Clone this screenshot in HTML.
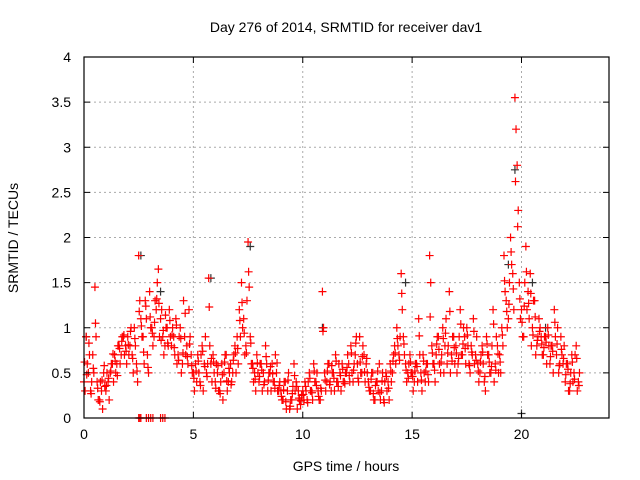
<!DOCTYPE html>
<html><head><meta charset="utf-8"><style>
body{margin:0;background:#fff;}
svg{display:block;font-family:"Liberation Sans",sans-serif;}
</style></head><body>
<svg id="chart" width="640" height="480">
<text x="346" y="32" font-size="14" text-anchor="middle">Day 276 of 2014, SRMTID for receiver dav1</text>
<text x="346" y="471" font-size="14" text-anchor="middle">GPS time / hours</text>
<text x="18" y="238" font-size="14" text-anchor="middle" transform="rotate(-90 18 238)">SRMTID / TECUs</text>
<g id="grid"></g><g id="marks"></g><g id="axes"></g>
</svg>
<script>
const xTicks=[0,5,10,15,20];
const yTicks=[0,0.5,1,1.5,2,2.5,3,3.5,4];
const yTickLabels=["0","0.5","1","1.5","2","2.5","3","3.5","4"];
const step=0.1;
const redA=[.4,.9,.5,.3,.7,1.45,.4,.2,.3,.5,.3,.4,.5,.6,.7,.6,.8,.7,.9,.8,.9,.8,.7,1.0,.6,1.8,1.1,.9,1.3,.7,1.4,1.0,.9,1.2,1.65,1.1,.9,.8,1.0,1.2,.8,.9,1.1,.7,1.0,.6,.9,.8,1.2,.7,.5,.6,.7,.4,.8,.6,.5,1.55,.6,.7,.4,.5,.3,.6,.5,.7,.4,.6,.5,.8,.9,1.2,1.5,1.1,.8,1.95,.9,.6,.5,.7,.4,.6,.5,.8,.3,.5,.6,.4,.5,.3,.3,.2,.4,.3,.1,.2,.6,.4,.3,.15,.3,.4,.2,.5,.3,.6,.4,.3,.2,1.4,.5,.4,.6,.3,.5,.7,.4,.5,.6,.4,.5,.6,.8,.4,.7,.6,.9,.5,.7,.6,.4,.3,.5,.2,.4,.6,.3,.2,.5,.4,.6,.5,.8,1.0,.7,1.6,.9,.6,.5,.7,.5,.4,.6,1.1,.5,.7,.4,.6,1.8,.8,.6,.7,.9,.5,1.0,.8,.6,1.4,.7,.9,.8,.6,1.2,.7,.9,1.0,.6,.8,1.1,.7,.6,.5,.8,.4,.9,.7,.5,1.2,.6,.8,.7,1.0,1.8,1.3,1.1,2.0,1.6,3.55,2.8,1.5,1.2,.9,1.9,1.4,1.6,1.0,1.3,.8,1.1,.9,.7,.9,1.0,.6,.8,1.2,.7,.5,.9,.6,.4,.6,.3,.7,.5,.8,.4];
const redB=[.3,.6,.7,.4,.5,.9,.2,.4,.1,.35,.5,.2,.6,.4,.5,.8,.6,.9,.7,.6,.7,1.0,.5,.8,.4,1.3,.9,.6,1.1,.5,1.0,.8,1.3,1.5,.9,1.2,.7,1.0,.8,.9,1.0,.7,.6,.9,.5,1.3,.7,.6,.9,.5,.3,.4,.5,.7,.3,.9,.6,.8,.4,.5,.6,.3,.4,.2,.7,.3,.5,.4,.7,.5,.6,.9,1.0,.7,1.3,1.45,.6,.4,.3,.5,.6,.3,.4,.6,.5,.3,.4,.7,.3,.4,.2,.4,.1,.5,.2,.35,.3,.1,.2,.25,.2,.3,.4,.3,.2,.4,.5,.2,.3,1.0,.3,.6,.4,.5,.3,.4,.6,.3,.4,.5,.7,.4,.5,.6,.9,.4,.5,.8,.4,.5,.3,.5,.2,.4,.3,.2,.5,.4,.3,.2,.4,.7,.6,.8,.9,1.2,.7,.4,.6,.5,.3,.6,.4,.7,.3,.5,.6,.4,1.5,.6,.4,.9,.6,.7,.5,1.1,.8,.5,.9,.6,.5,.9,.7,1.0,.6,.8,.5,.7,.6,.9,.4,.7,.6,.3,.7,.5,.8,.4,.9,.5,.5,.8,1.4,1.0,1.5,1.7,1.2,3.2,2.3,1.1,.9,1.5,1.2,1.1,.8,1.3,.7,.9,1.0,.7,.9,.6,.8,.8,.5,.9,1.0,.6,.7,.8,.6,.3,.5,.4,.7,.3,.5];
const redC=[.62,.48,.83,.27,.55,1.05,.33,.18,.42,.58,.36,.44,.52,.71,.63,.47,.77,.85,.92,.74,.81,.96,.66,.88,.52,1.18,1.02,.73,1.24,.56,1.12,.94,1.06,1.32,1.27,.86,.97,1.14,.83,1.08,.92,.78,1.03,.64,.88,.72,1.16,.68,.82,.58,.44,.52,.63,.36,.74,.57,.46,1.23,.66,.62,.33,.58,.27,.48,.62,.41,.55,.37,.64,.72,.77,1.08,1.28,.94,.72,1.62,.83,.55,.43,.61,.46,.53,.37,.68,.42,.57,.49,.33,.61,.36,.24,.31,.18,.42,.13,.27,.47,.35,.22,.19,.26,.35,.17,.44,.28,.52,.36,.24,.33,.96,.42,.52,.37,.58,.44,.63,.35,.47,.54,.38,.56,.47,.72,.53,.83,.44,.62,.68,.51,.66,.34,.43,.27,.36,.52,.28,.41,.17,.46,.33,.52,.63,.72,.88,.64,1.38,.82,.53,.44,.62,.46,.52,.57,.91,.42,.63,.52,.48,1.12,.72,.53,.82,.76,.62,.88,.94,.72,1.18,.63,.78,.72,.66,1.04,.82,.77,.92,.58,.73,.96,.64,.52,.62,.73,.46,.82,.62,.57,1.04,.53,.71,.62,.92,1.52,1.18,1.26,1.84,1.43,2.62,2.12,1.32,1.06,1.24,1.62,1.27,1.38,.92,1.12,.86,.96,.82,.78,.84,.92,.68,.74,1.06,.82,.58,.76,.66,.48,.54,.38,.62,.43,.66,.36];
const zeroTimes=[2.5,2.55,2.6,2.85,2.95,3.05,3.15,3.5,3.6,3.7];
const grayTimes=[0.1,2.6,3.5,5.8,7.6,10.9,14.7,19.4,19.7,20.0,20.5,21.1];
const grayValues=[.9,1.8,1.4,1.55,1.9,1.0,1.5,1.7,2.75,0.05,1.5,1.0];
const X0=84,X1=609,Y0=418,Y1=57,XMAX=24,YMAX=4;
const sx=v=>X0+(X1-X0)*v/XMAX, sy=v=>Y0-(Y0-Y1)*v/YMAX;
const NS="http://www.w3.org/2000/svg";
function mk(tag,at,parent){const e=document.createElementNS(NS,tag);for(const k in at)e.setAttribute(k,at[k]);document.getElementById(parent).appendChild(e);return e;}
xTicks.forEach(t=>{
 if(t>0){const g=mk('line',{x1:sx(t),x2:sx(t),y1:Y0,y2:Y1,stroke:'#aaa','stroke-dasharray':'2,3'},'grid');
 
 }
 const l=mk('text',{x:sx(t),y:Y0+21,'font-size':14,'text-anchor':'middle'},'axes');l.textContent=t;
 
 
 mk('line',{x1:sx(t),x2:sx(t),y1:Y0,y2:Y0-6,stroke:'#000'},'axes');
 mk('line',{x1:sx(t),x2:sx(t),y1:Y1,y2:Y1+6,stroke:'#000'},'axes');
});
yTicks.forEach((t,i)=>{
 if(t>0&&t<YMAX){const g=mk('line',{x1:X0,x2:X1,y1:sy(t),y2:sy(t),stroke:'#aaa','stroke-dasharray':'2,3'},'grid');
 
 }
 const l=mk('text',{x:X0-13,y:sy(t)+5,'font-size':14,'text-anchor':'end'},'axes');l.textContent=yTickLabels[i];
 
 
 mk('line',{x1:X0,x2:X0+6,y1:sy(t),y2:sy(t),stroke:'#000'},'axes');
 mk('line',{x1:X1,x2:X1-6,y1:sy(t),y2:sy(t),stroke:'#000'},'axes');
});
const fr=mk('rect',{x:X0,y:Y1,width:X1-X0,height:Y0-Y1,fill:'none',stroke:'#000','stroke-width':1.2},'axes');


function cross(t,v,col,name){
 const x=sx(t),y=sy(v);
 const p=mk('path',{d:`M${x-4} ${y}H${x+4}M${x} ${y-4}V${y+4}`,stroke:col,'stroke-width':1.2},'marks');
 
 
}
grayValues.forEach((v,i)=>cross(grayTimes[i],v,'#333','gray-point'));
redA.forEach((v,i)=>cross(i*step,v,'#f00','red-point'));
redB.forEach((v,i)=>cross(i*step+0.05,v,'#f00','red-point'));
redC.forEach((v,i)=>cross(i*step+0.025,v,'#f00','red-point'));
zeroTimes.forEach(t=>cross(t,0,'#f00','zero-point'));
</script>
</body></html>
